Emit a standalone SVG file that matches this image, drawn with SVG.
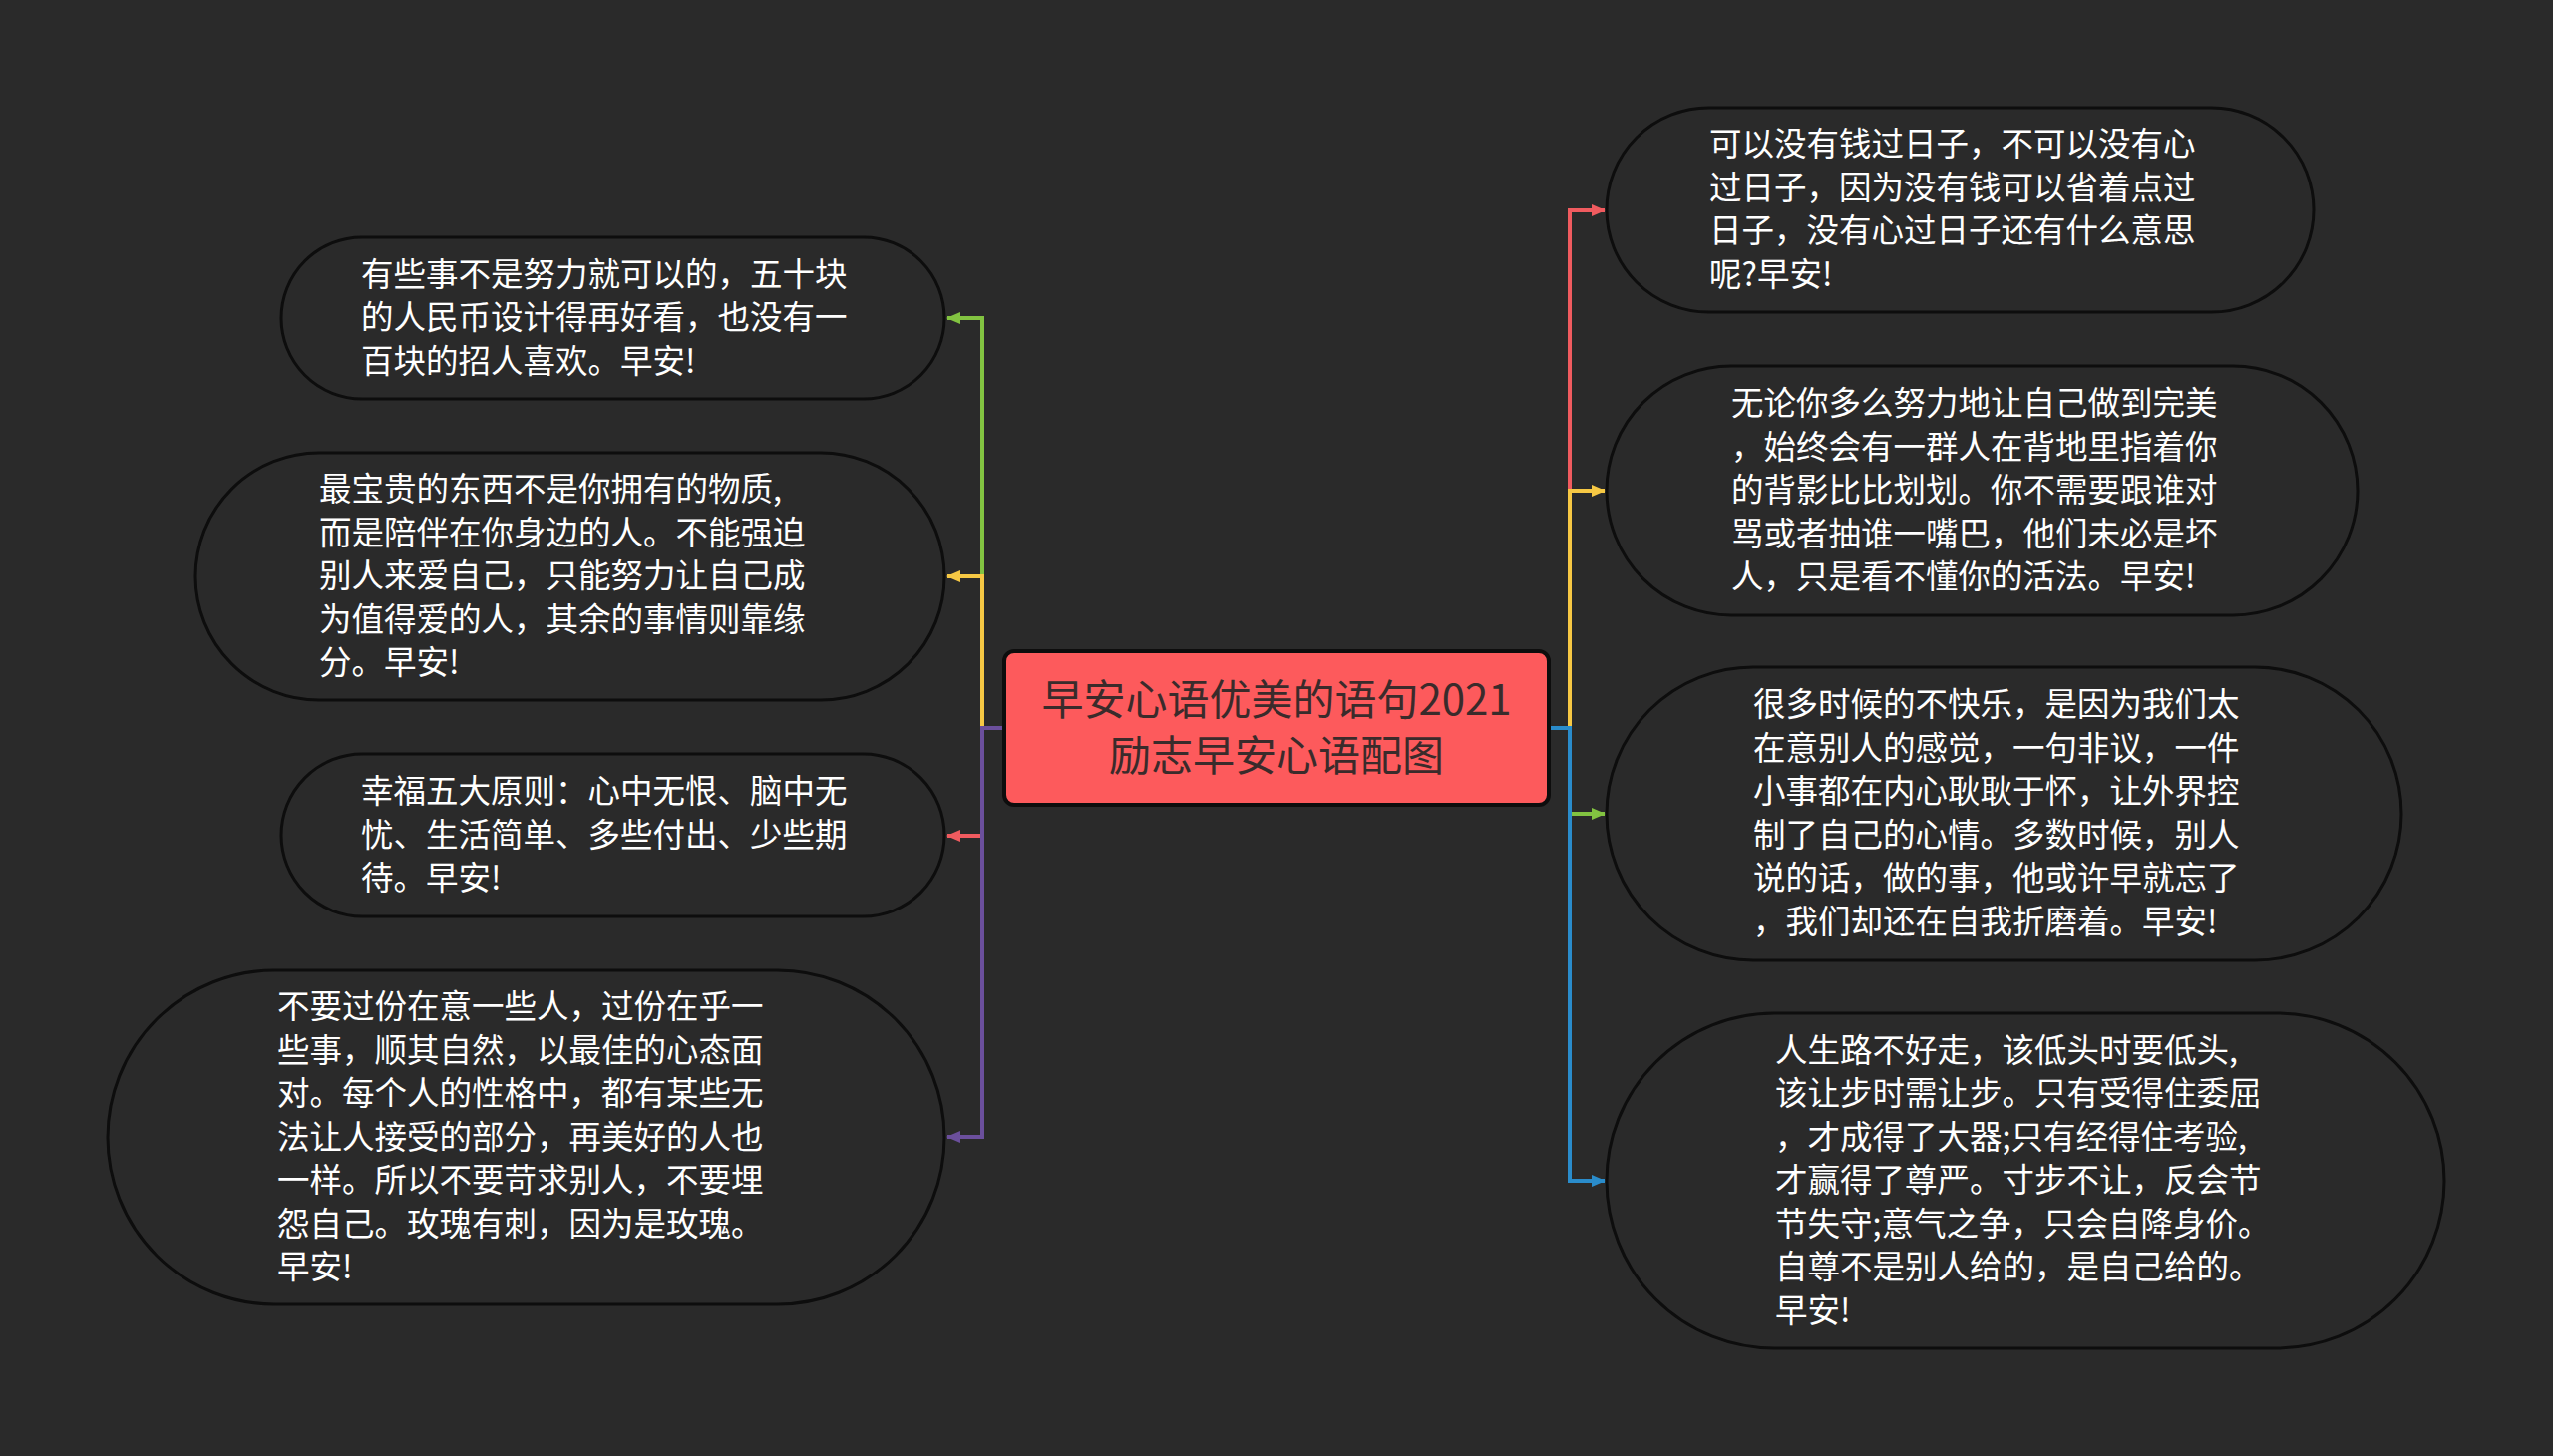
<svg xmlns="http://www.w3.org/2000/svg" width="2560" height="1460" viewBox="0 0 2560 1460">
<defs>
<style>
.bg{fill:#2a2a2a}
.node rect{fill:#2a2a2a;stroke:#0d0d0d;stroke-width:3}
.node text{font-family:"Noto Sans CJK SC","Noto Sans",sans-serif;font-size:32.5px;fill:#ffffff}
.center rect{fill:#fd5a5c;stroke:#0d0d0d;stroke-width:4}
.center text{font-family:"Noto Sans CJK SC","Noto Sans",sans-serif;font-size:42px;fill:#3a2b2b;text-anchor:middle}
.c{fill:none;stroke-width:4}
</style>
<marker id="aG" viewBox="0 0 14 14" refX="13" refY="7" markerWidth="14" markerHeight="14" markerUnits="userSpaceOnUse" orient="auto"><path d="M0,1 L14,7 L0,13 Z" fill="#82c341"/></marker>
<marker id="aY" viewBox="0 0 14 14" refX="13" refY="7" markerWidth="14" markerHeight="14" markerUnits="userSpaceOnUse" orient="auto"><path d="M0,1 L14,7 L0,13 Z" fill="#f6c844"/></marker>
<marker id="aR" viewBox="0 0 14 14" refX="13" refY="7" markerWidth="14" markerHeight="14" markerUnits="userSpaceOnUse" orient="auto"><path d="M0,1 L14,7 L0,13 Z" fill="#f05b5f"/></marker>
<marker id="aP" viewBox="0 0 14 14" refX="13" refY="7" markerWidth="14" markerHeight="14" markerUnits="userSpaceOnUse" orient="auto"><path d="M0,1 L14,7 L0,13 Z" fill="#6b4f9c"/></marker>
<marker id="aB" viewBox="0 0 14 14" refX="13" refY="7" markerWidth="14" markerHeight="14" markerUnits="userSpaceOnUse" orient="auto"><path d="M0,1 L14,7 L0,13 Z" fill="#2a8ccb"/></marker>
</defs>
<rect class="bg" x="0" y="0" width="2560" height="1460"/>

<g id="connectors">
<path class="c" stroke="#82c341" d="M1006,730 H985 V319 H950" marker-end="url(#aG)"/>
<path class="c" stroke="#f6c844" d="M1006,730 H985 V578 H950" marker-end="url(#aY)"/>
<path class="c" stroke="#f05b5f" d="M1006,730 H985 V838 H950" marker-end="url(#aR)"/>
<path class="c" stroke="#6b4f9c" d="M1006,730 H985 V1140 H950" marker-end="url(#aP)"/>
<path class="c" stroke="#f05b5f" d="M1554,730 H1574 V211 H1609" marker-end="url(#aR)"/>
<path class="c" stroke="#f6c844" d="M1554,730 H1574 V492 H1609" marker-end="url(#aY)"/>
<path class="c" stroke="#82c341" d="M1554,730 H1574 V816 H1609" marker-end="url(#aG)"/>
<path class="c" stroke="#2a8ccb" d="M1554,730 H1574 V1184 H1609" marker-end="url(#aB)"/>
</g>

<g id="center" class="center">
<rect x="1007" y="653" width="546" height="154" rx="10"/>
<text x="1280" y="717">早安心语优美的语句2021</text>
<text x="1280" y="773">励志早安心语配图</text>
</g>

<g id="L1" class="node">
<rect x="282" y="238" width="665" height="162" rx="81"/>
<text x="362" y="286.5">有些事不是努力就可以的，五十块</text>
<text x="362" y="330">的人民币设计得再好看，也没有一</text>
<text x="362" y="373.5">百块的招人喜欢。早安!</text>
</g>

<g id="L2" class="node">
<rect x="196" y="454" width="751" height="248" rx="124"/>
<text x="320" y="502">最宝贵的东西不是你拥有的物质,</text>
<text x="320" y="545.5">而是陪伴在你身边的人。不能强迫</text>
<text x="320" y="589">别人来爱自己，只能努力让自己成</text>
<text x="320" y="632.5">为值得爱的人，其余的事情则靠缘</text>
<text x="320" y="676">分。早安!</text>
</g>

<g id="L3" class="node">
<rect x="282" y="756" width="665" height="163" rx="81.5"/>
<text x="362" y="805">幸福五大原则：心中无恨、脑中无</text>
<text x="362" y="848.5">忧、生活简单、多些付出、少些期</text>
<text x="362" y="892">待。早安!</text>
</g>

<g id="L4" class="node">
<rect x="108" y="973" width="839" height="335" rx="167.5"/>
<text x="278" y="1021">不要过份在意一些人，过份在乎一</text>
<text x="278" y="1064.5">些事，顺其自然，以最佳的心态面</text>
<text x="278" y="1108">对。每个人的性格中，都有某些无</text>
<text x="278" y="1151.5">法让人接受的部分，再美好的人也</text>
<text x="278" y="1195">一样。所以不要苛求别人，不要埋</text>
<text x="278" y="1238.5">怨自己。玫瑰有刺，因为是玫瑰。</text>
<text x="278" y="1282">早安!</text>
</g>

<g id="R1" class="node">
<rect x="1611" y="108" width="709" height="205" rx="102.5"/>
<text x="1714" y="156.25">可以没有钱过日子，不可以没有心</text>
<text x="1714" y="199.75">过日子，因为没有钱可以省着点过</text>
<text x="1714" y="243.25">日子，没有心过日子还有什么意思</text>
<text x="1714" y="286.75">呢?早安!</text>
</g>

<g id="R2" class="node">
<rect x="1611" y="367" width="753" height="250" rx="125"/>
<text x="1736" y="416">无论你多么努力地让自己做到完美</text>
<text x="1736" y="459.5">，始终会有一群人在背地里指着你</text>
<text x="1736" y="503">的背影比比划划。你不需要跟谁对</text>
<text x="1736" y="546.5">骂或者抽谁一嘴巴，他们未必是坏</text>
<text x="1736" y="590">人，只是看不懂你的活法。早安!</text>
</g>

<g id="R3" class="node">
<rect x="1611" y="669" width="797" height="294" rx="147"/>
<text x="1758" y="718.25">很多时候的不快乐，是因为我们太</text>
<text x="1758" y="761.75">在意别人的感觉，一句非议，一件</text>
<text x="1758" y="805.25">小事都在内心耿耿于怀，让外界控</text>
<text x="1758" y="848.75">制了自己的心情。多数时候，别人</text>
<text x="1758" y="892.25">说的话，做的事，他或许早就忘了</text>
<text x="1758" y="935.75">，我们却还在自我折磨着。早安!</text>
</g>

<g id="R4" class="node">
<rect x="1611" y="1016" width="840" height="336" rx="168"/>
<text x="1780" y="1064.5">人生路不好走，该低头时要低头,</text>
<text x="1780" y="1108">该让步时需让步。只有受得住委屈</text>
<text x="1780" y="1151.5">，才成得了大器;只有经得住考验,</text>
<text x="1780" y="1195">才赢得了尊严。寸步不让，反会节</text>
<text x="1780" y="1238.5">节失守;意气之争，只会自降身价。</text>
<text x="1780" y="1282">自尊不是别人给的，是自己给的。</text>
<text x="1780" y="1325.5">早安!</text>
</g>
</svg>
